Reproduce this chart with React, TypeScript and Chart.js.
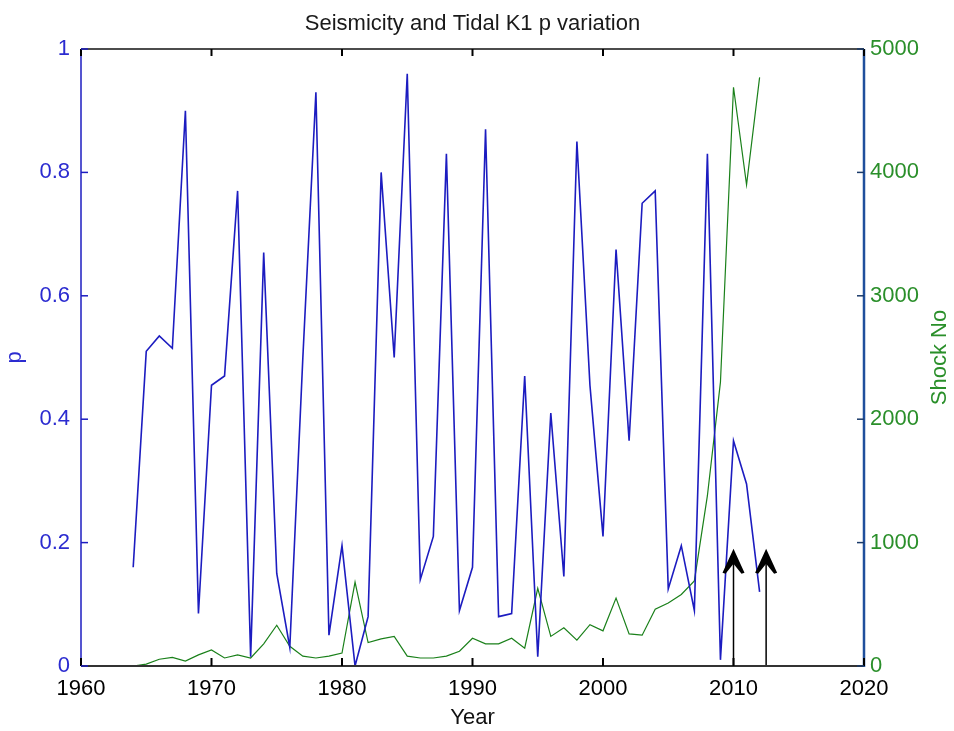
import React, { useEffect, useRef } from 'react';
import { Chart, registerables } from 'chart.js';

Chart.register(...registerables);

const titleText = 'Seismicity and Tidal K1 p variation';
const xLabel = 'Year';
const leftLabel = 'p';
const rightLabel = 'Shock No';

const years = [
  1964, 1965, 1966, 1967, 1968, 1969, 1970, 1971, 1972, 1973,
  1974, 1975, 1976, 1977, 1978, 1979, 1980, 1981, 1982, 1983,
  1984, 1985, 1986, 1987, 1988, 1989, 1990, 1991, 1992, 1993,
  1994, 1995, 1996, 1997, 1998, 1999, 2000, 2001, 2002, 2003,
  2004, 2005, 2006, 2007, 2008, 2009, 2010, 2011, 2012,
];

const pValues = [
  0.16, 0.51, 0.535, 0.515, 0.9, 0.085, 0.455, 0.47, 0.77, 0.015,
  0.67, 0.15, 0.03, 0.5, 0.93, 0.05, 0.195, 0.0, 0.08, 0.8,
  0.5, 0.96, 0.14, 0.21, 0.83, 0.09, 0.16, 0.87, 0.08, 0.085,
  0.47, 0.015, 0.41, 0.145, 0.85, 0.455, 0.21, 0.675, 0.365, 0.75,
  0.77, 0.125, 0.195, 0.09, 0.83, 0.01, 0.365, 0.295, 0.12,
];

const shockCounts = [
  0, 15, 55, 70, 40, 90, 130, 65, 90, 65,
  180, 330, 160, 80, 65, 80, 105, 680, 190, 220,
  240, 80, 65, 65, 80, 120, 225, 180, 180, 225,
  145, 630, 240, 310, 210, 335, 285, 550, 260, 250,
  460, 510, 580, 690, 1380, 2300, 4690, 3900, 4770,
];

const arrowYears = [2010, 2012.5];
const arrowTipP = 0.19;

const xMin = 1960, xMax = 2020, xStep = 10;
const pMin = 0, pMax = 1, pStep = 0.2;
const sMin = 0, sMax = 5000, sStep = 1000;

const FONT = '"Liberation Sans", Arial, Helvetica, sans-serif';
const BLUE_LINE = '#1c1cc0';
const BLUE_TEXT = '#2b2bd0';
const GREEN_LINE = '#1a801a';
const GREEN_TEXT = '#2a8f2a';
const RIGHT_AXIS = '#1f4f9c';

const matlabPlugin = {
  id: 'matlabAxes',
  afterDatasetsDraw(chart: any) {
    const { ctx, scales } = chart;
    const xs = scales.x, ys = scales.y;
    ctx.save();
    ctx.fillStyle = '#000';
    ctx.strokeStyle = '#000';
    ctx.lineWidth = 1.5;
    const base = ys.getPixelForValue(0);
    const tipY = ys.getPixelForValue(arrowTipP);
    arrowYears.forEach((yr) => {
      const px = xs.getPixelForValue(yr);
      ctx.beginPath();
      ctx.moveTo(px, base);
      ctx.lineTo(px, tipY + 6);
      ctx.stroke();
      ctx.beginPath();
      ctx.moveTo(px, tipY);
      ctx.lineTo(px - 11, tipY + 24);
      ctx.lineTo(px - 8, tipY + 25);
      ctx.lineTo(px, tipY + 15);
      ctx.lineTo(px + 8, tipY + 25);
      ctx.lineTo(px + 11, tipY + 24);
      ctx.closePath();
      ctx.fill();
    });
    ctx.restore();
  },
  afterDraw(chart: any) {
    const { ctx, chartArea, scales } = chart;
    const { left, right, top, bottom } = chartArea;
    ctx.save();
    const line = (x1: number, y1: number, x2: number, y2: number) => {
      ctx.beginPath();
      ctx.moveTo(x1, y1);
      ctx.lineTo(x2, y2);
      ctx.stroke();
    };
    ctx.lineWidth = 1.5;
    ctx.strokeStyle = '#111';
    line(left, top, right, top);
    ctx.lineWidth = 2;
    ctx.strokeStyle = '#333';
    line(left, bottom, right, bottom);
    ctx.lineWidth = 1.5;
    ctx.strokeStyle = BLUE_LINE;
    line(left, top, left, bottom);
    ctx.lineWidth = 2.5;
    ctx.strokeStyle = RIGHT_AXIS;
    line(right, top, right, bottom + 1);
    ctx.strokeStyle = '#000';
    ctx.lineWidth = 2;
    scales.x.ticks.forEach((t: any) => {
      const px = scales.x.getPixelForValue(t.value);
      line(px, bottom, px, bottom - 8);
      line(px, top, px, top + 7);
    });
    ctx.strokeStyle = BLUE_LINE;
    ctx.lineWidth = 1.5;
    scales.y.ticks.forEach((t: any) => {
      const py = scales.y.getPixelForValue(t.value);
      line(left, py, left + 7, py);
    });
    ctx.strokeStyle = '#1a3a6a';
    scales.y1.ticks.forEach((t: any) => {
      const py = scales.y1.getPixelForValue(t.value);
      line(right, py, right - 7, py);
    });
    ctx.fillStyle = GREEN_TEXT;
    ctx.font = `22px ${FONT}`;
    ctx.textAlign = 'center';
    ctx.textBaseline = 'middle';
    ctx.translate(940, (top + bottom) / 2);
    ctx.rotate(-Math.PI / 2);
    ctx.fillText(rightLabel, 0, 0);
    ctx.restore();
  },
};

export default function App() {
  const ref = useRef<HTMLCanvasElement | null>(null);

  useEffect(() => {
    document.body.style.margin = '0';
    const canvas = ref.current;
    if (!canvas) return;
    const pData = years.map((x, i) => ({ x, y: pValues[i] }));
    const sData = years.map((x, i) => ({ x, y: shockCounts[i] }));
    const chart = new Chart(canvas, {
      type: 'line',
      data: {
        datasets: [
          {
            label: 'p',
            data: pData,
            yAxisID: 'y',
            borderColor: BLUE_LINE,
            borderWidth: 1.6,
            pointRadius: 0,
            tension: 0,
            fill: false,
          },
          {
            label: 'Shock No',
            data: sData,
            yAxisID: 'y1',
            borderColor: GREEN_LINE,
            borderWidth: 1.2,
            pointRadius: 0,
            tension: 0,
            fill: false,
          },
        ],
      },
      options: {
        responsive: false,
        animation: false,
        devicePixelRatio: 1,
        layout: { padding: 0 },
        plugins: {
          legend: { display: false },
          tooltip: { enabled: false },
          title: {
            display: true,
            text: titleText,
            fullSize: false,
            color: '#1a1a1a',
            font: { family: FONT, size: 22, weight: 'normal', lineHeight: 1.2 },
            padding: { top: 11, bottom: 11.6 },
          },
        },
        scales: {
          x: {
            type: 'linear',
            min: xMin,
            max: xMax,
            grid: { display: false, drawTicks: false },
            border: { display: false },
            ticks: {
              stepSize: xStep,
              color: '#000',
              padding: 10,
              maxRotation: 0,
              font: { family: FONT, size: 22 },
              callback: (v: any) => String(v),
            },
            title: {
              display: true,
              text: xLabel,
              color: '#111',
              font: { family: FONT, size: 22, lineHeight: 1.2 },
              padding: { top: 0, bottom: 0 },
            },
            afterFit: (s: any) => { s.height = 65; },
          },
          y: {
            type: 'linear',
            position: 'left',
            min: pMin,
            max: pMax,
            grid: { display: false, drawTicks: false },
            border: { display: false },
            ticks: {
              stepSize: pStep,
              color: BLUE_TEXT,
              padding: 11,
              font: { family: FONT, size: 22 },
              callback: (v: any) => String(Math.round(v * 10) / 10),
            },
            title: {
              display: true,
              text: leftLabel,
              color: BLUE_TEXT,
              font: { family: FONT, size: 22, lineHeight: 1.2 },
              padding: { top: 2, bottom: 0 },
            },
            afterFit: (s: any) => { s.width = 81; },
          },
          y1: {
            type: 'linear',
            position: 'right',
            min: sMin,
            max: sMax,
            grid: { display: false, drawTicks: false },
            border: { display: false },
            ticks: {
              stepSize: sStep,
              color: GREEN_TEXT,
              padding: 6,
              font: { family: FONT, size: 22 },
              callback: (v: any) => String(v),
            },
            afterFit: (s: any) => { s.width = 90; },
          },
        },
      },
      plugins: [matlabPlugin],
    } as any);
    return () => chart.destroy();
  }, []);

  return (
    <div style={{ position: 'absolute', left: 0, top: 0, width: 954, height: 731, background: '#fff' }}>
      <canvas ref={ref} width={954} height={731} />
    </div>
  );
}
